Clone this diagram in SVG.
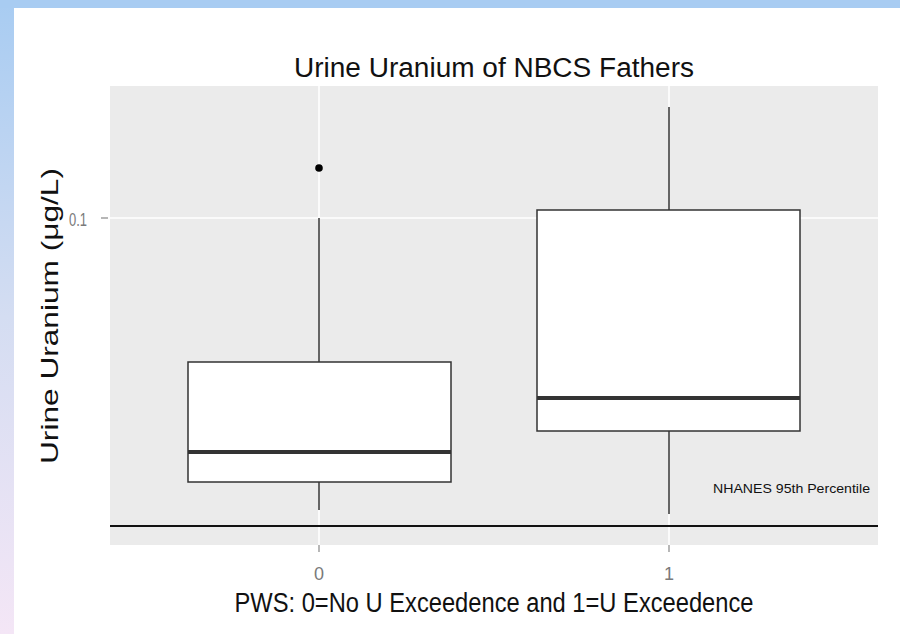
<svg xmlns="http://www.w3.org/2000/svg" width="900" height="634" viewBox="0 0 900 634">
<defs>
<linearGradient id="side" x1="0" y1="0" x2="0" y2="1">
<stop offset="0" stop-color="#A8CCF2"/>
<stop offset="0.5" stop-color="#D4DDF2"/>
<stop offset="1" stop-color="#F4E6F6"/>
</linearGradient>
<style>
.t{font-family:"Liberation Sans",Arial,sans-serif;fill:#111}
.g{font-family:"Liberation Sans",Arial,sans-serif;fill:#7a7a7a}
.box{fill:#fff;stroke:#333;stroke-width:1.5}
.med{stroke:#333;stroke-width:4}
.wh{stroke:#333;stroke-width:1.5}
.grid{stroke:#fff;stroke-width:1.6}
.tick{stroke:#888;stroke-width:1.2}
</style>
</defs>
<rect x="0" y="0" width="900" height="634" fill="url(#side)"/>
<rect x="0" y="0" width="900" height="8" fill="#A8CCF2"/>
<rect x="14" y="8" width="886" height="626" fill="#fff"/>
<g id="panel">
<rect x="110" y="86" width="768" height="459" fill="#EBEBEB"/>
<line class="grid" x1="110" y1="218" x2="878" y2="218"/>
<line class="grid" x1="319" y1="86" x2="319" y2="545"/>
<line class="grid" x1="669" y1="86" x2="669" y2="545"/>
</g>
<text class="t" x="494" y="77" font-size="27" text-anchor="middle" textLength="400" lengthAdjust="spacingAndGlyphs">Urine Uranium of NBCS Fathers</text>
<g id="yaxis">
<line class="tick" x1="101" y1="218" x2="108" y2="218"/>
<text class="g" x="87" y="226" font-size="19" text-anchor="end" textLength="18" lengthAdjust="spacingAndGlyphs">0.1</text>
<text class="t" transform="translate(58,316) rotate(-90)" font-size="24" text-anchor="middle" textLength="296" lengthAdjust="spacingAndGlyphs">Urine Uranium  (μg/L)</text>
</g>
<g id="xaxis">
<line class="tick" x1="319" y1="545" x2="319" y2="552"/>
<line class="tick" x1="669" y1="545" x2="669" y2="552"/>
<text class="g" x="319" y="580" font-size="18" text-anchor="middle">0</text>
<text class="g" x="669" y="580" font-size="18" text-anchor="middle">1</text>
<text class="t" x="494" y="612" font-size="27" text-anchor="middle" textLength="519" lengthAdjust="spacingAndGlyphs">PWS: 0=No U Exceedence and 1=U Exceedence</text>
</g>
<g id="box0">
<line class="wh" x1="319" y1="218" x2="319" y2="362"/>
<line class="wh" x1="319" y1="482" x2="319" y2="510"/>
<rect class="box" x="188" y="362" width="263" height="120"/>
<line class="med" x1="188" y1="452" x2="451" y2="452"/>
<circle cx="319" cy="168" r="3.8" fill="#000"/>
</g>
<g id="box1">
<line class="wh" x1="669" y1="107" x2="669" y2="210"/>
<line class="wh" x1="669" y1="431" x2="669" y2="514"/>
<rect class="box" x="537" y="210" width="263" height="221"/>
<line class="med" x1="537" y1="398" x2="800" y2="398"/>
</g>
<g id="nhanes">
<line x1="110" y1="526" x2="878" y2="526" stroke="#111" stroke-width="2"/>
<text class="t" x="870" y="493" font-size="13.5" text-anchor="end" textLength="157" lengthAdjust="spacingAndGlyphs">NHANES 95th Percentile</text>
</g>
</svg>
